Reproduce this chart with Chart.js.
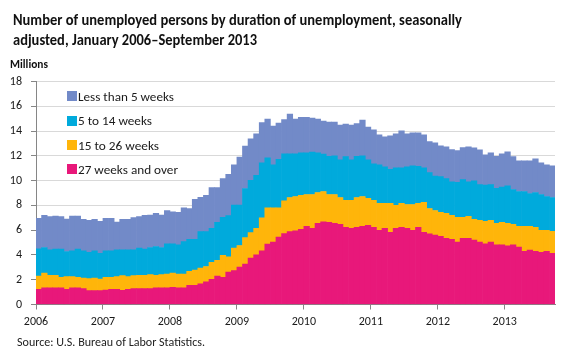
<!DOCTYPE html>
<html><head><meta charset="utf-8">
<script src="https://cdn.jsdelivr.net/npm/chart.js@4.4.0/dist/chart.umd.min.js"></script>
<style>
html,body{margin:0;padding:0;background:#fff;}
#wrap{position:relative;width:580px;height:363px;overflow:hidden;font-family:Carlito,Lato,sans-serif;color:#111;}
#c{position:absolute;left:0;top:0;}
.t{position:absolute;white-space:nowrap;transform-origin:0 0;}
.lg{position:absolute;left:67px;height:16px;display:flex;align-items:center;white-space:nowrap;}
.lg i{display:inline-block;width:10px;height:10px;margin-right:1px;}
.lg span{display:inline-block;font-size:12.5px;color:#1a1a1a;transform-origin:0 50%;}
</style></head><body>
<div id="wrap">
<canvas id="c" width="580" height="363"></canvas>
<div class="t" data-w="449" style="left:13px;top:10px;font-size:15px;font-weight:700;line-height:20px">Number of unemployed persons by duration of unemployment, seasonally</div>
<div class="t" data-w="244" style="left:13px;top:29.5px;font-size:15px;font-weight:700;line-height:20px">adjusted, January 2006–September 2013</div>
<div class="t" data-w="38" style="left:10px;top:58px;font-size:11px;font-weight:700;line-height:13px">Millions</div>
<div class="t" data-w="188" style="left:17px;top:334px;font-size:11.5px;line-height:16px;color:#222">Source: U.S. Bureau of Labor Statistics.</div>
<div id="legend"></div>
</div>
<script>
// ---- data (millions, seasonally adjusted, monthly Jan 2006 – Sep 2013) ----
const years = [2006, 2007, 2008, 2009, 2010, 2011, 2012, 2013];
const monthNames = ["Jan","Feb","Mar","Apr","May","Jun","Jul","Aug","Sep","Oct","Nov","Dec"];
const tickLabels = ["2006","2007","2008","2009","2010","2011","2012","2013"];
const seriesNames = ["Less than 5 weeks", "5 to 14 weeks", "15 to 26 weeks", "27 weeks and over"];

const weeks27Plus = [
 1.23,1.34,1.34,1.34,1.34,1.23,1.34,1.34,1.28,1.12,1.12,1.12,
 1.17,1.23,1.23,1.15,1.23,1.28,1.28,1.28,1.28,1.34,1.34,1.34,
 1.39,1.34,1.34,1.55,1.55,1.66,1.82,2.03,2.30,2.19,2.62,2.73,
 3.02,3.26,3.74,4.01,4.33,4.87,5.03,5.45,5.72,5.88,5.94,6.07,
 6.31,6.15,6.55,6.68,6.63,6.55,6.47,6.23,6.15,6.23,6.31,6.39,
 6.23,5.99,6.15,5.83,6.15,6.23,6.15,5.99,6.23,5.83,5.70,5.61,
 5.51,5.35,5.27,5.03,5.35,5.35,5.19,5.03,4.89,5.03,4.81,4.81,
 4.73,4.81,4.63,4.30,4.39,4.30,4.22,4.30,4.14];
const weeks15to26 = [
 1.07,1.20,1.01,1.01,0.85,1.02,0.91,0.85,0.86,0.97,1.02,0.94,
 1.02,0.96,1.02,1.18,1.02,1.05,1.07,1.07,1.13,1.01,1.07,1.12,
 1.15,1.12,1.12,1.12,1.23,1.28,1.25,1.37,1.26,1.77,1.23,1.82,
 1.74,2.14,2.06,2.14,2.67,2.94,2.78,2.36,2.65,2.76,2.78,2.75,
 2.57,2.73,2.49,2.44,2.25,2.33,2.17,2.17,2.25,2.41,2.41,2.17,
 2.17,2.17,2.01,2.33,1.85,1.93,1.92,2.08,1.93,2.41,2.05,1.98,
 1.92,2.00,1.92,2.00,1.68,1.76,1.68,1.76,1.82,1.76,1.74,1.82,
 1.82,1.66,1.68,2.01,1.92,1.93,1.77,1.69,1.77];
const weeks5to14 = [
 2.19,2.06,2.06,2.12,2.28,2.03,2.08,2.28,2.19,2.13,2.19,2.08,
 2.14,2.14,2.16,2.08,2.16,2.08,2.20,2.12,2.19,2.33,2.19,2.43,
 2.35,2.35,2.62,2.60,2.49,2.94,2.81,2.75,3.07,3.07,3.32,3.47,
 3.26,3.96,4.23,4.28,4.44,4.03,3.47,3.90,3.80,3.53,3.45,3.43,
 3.37,3.42,3.21,3.02,3.07,3.12,3.04,3.53,3.28,3.31,3.28,3.12,
 2.96,3.12,2.96,2.75,3.04,2.88,3.05,3.13,2.99,2.80,2.89,2.78,
 2.89,2.81,2.72,2.84,3.05,2.80,3.12,2.88,2.92,2.88,2.82,2.84,
 3.02,2.81,2.81,2.81,2.65,2.81,2.89,2.73,2.73];
const lessThan5 = [
 2.46,2.59,2.68,2.67,2.62,2.62,2.81,2.67,2.54,2.57,2.54,2.57,
 2.62,2.62,2.25,2.46,2.46,2.60,2.54,2.72,2.62,2.67,2.62,2.70,
 2.60,2.62,2.73,2.48,3.21,2.78,2.94,3.29,2.81,3.13,3.34,3.26,
 3.88,3.42,3.34,3.34,3.24,3.13,3.13,2.94,2.75,3.20,2.80,2.85,
 2.85,2.75,2.72,2.67,2.78,2.73,2.81,2.64,2.81,2.65,2.89,2.65,
 2.73,2.41,2.41,2.70,2.73,2.97,2.65,2.65,2.70,2.65,2.52,2.68,
 2.49,2.57,2.60,2.56,2.59,2.82,2.66,2.82,2.46,2.58,2.58,2.70,
 2.76,2.65,2.48,2.48,2.64,2.72,2.56,2.56,2.56];

// categories: Jan 2006 .. Sep 2013
const categories = [];
years.forEach(y => monthNames.forEach(m => categories.push(m + " " + y)));
categories.length = lessThan5.length;

const colors = ["#728AC8", "#00AADC", "#FFB50A", "#E8187A"];
const FONT = "Carlito, Lato, sans-serif";

// legend (HTML, from series names)
const lg = document.getElementById('legend');
const lgTops = [88, 112.5, 137, 161];
const lgW = [96, 74, 81, 100];
seriesNames.forEach((n, i) => {
  const d = document.createElement('div');
  d.className = 'lg';
  d.style.top = lgTops[i] + 'px';
  d.innerHTML = '<i style="background:' + colors[i] + '"></i><span data-w="' + lgW[i] + '">' + n + '</span>';
  lg.appendChild(d);
});

const seriesData = [lessThan5, weeks5to14, weeks15to26, weeks27Plus];
const datasets = [3, 2, 1, 0].map(i => ({
  label: seriesNames[i],
  data: seriesData[i],
  backgroundColor: colors[i],
  borderWidth: 0,
  barPercentage: 1,
  categoryPercentage: 1
}));

new Chart(document.getElementById('c'), {
  type: 'bar',
  data: { labels: categories, datasets: datasets },
  options: {
    responsive: false, animation: false, devicePixelRatio: 1,
    layout: { padding: { left: 0, right: 25, top: 81.5, bottom: 0 } },
    plugins: { legend: { display: false }, tooltip: { enabled: false } },
    scales: {
      x: {
        stacked: true,
        grid: { display: true, offset: true, drawOnChartArea: false, tickLength: 5,
          tickColor: c => (c.tick && c.index % 12 === 0) ? '#868686' : 'rgba(0,0,0,0)' },
        border: { color: '#868686', width: 1 },
        ticks: { autoSkip: false, maxRotation: 0, minRotation: 0, labelOffset: -2.79, padding: 5,
          color: '#1a1a1a', font: { family: FONT, size: 12 },
          callback: (v, i) => (i % 12 === 0) ? tickLabels[i / 12] : '' },
        afterFit: s => { s.height = 58.5; }
      },
      y: {
        stacked: true, min: 0, max: 18,
        grid: { color: '#d9d9d9', tickColor: '#868686', tickLength: 5 },
        border: { color: '#868686', width: 1 },
        ticks: { stepSize: 2, padding: 9, color: '#1a1a1a', font: { family: FONT, size: 12 } },
        afterFit: s => { s.width = 36; }
      }
    }
  }
});

function fit() {
  document.querySelectorAll('[data-w]').forEach(el => {
    el.style.transform = 'none';
    const w = el.getBoundingClientRect().width;
    const t = parseFloat(el.getAttribute('data-w'));
    if (w > 0) el.style.transform = 'scaleX(' + (t / w) + ')';
  });
}
fit();
if (document.fonts && document.fonts.ready) document.fonts.ready.then(fit);
</script>
</body></html>
